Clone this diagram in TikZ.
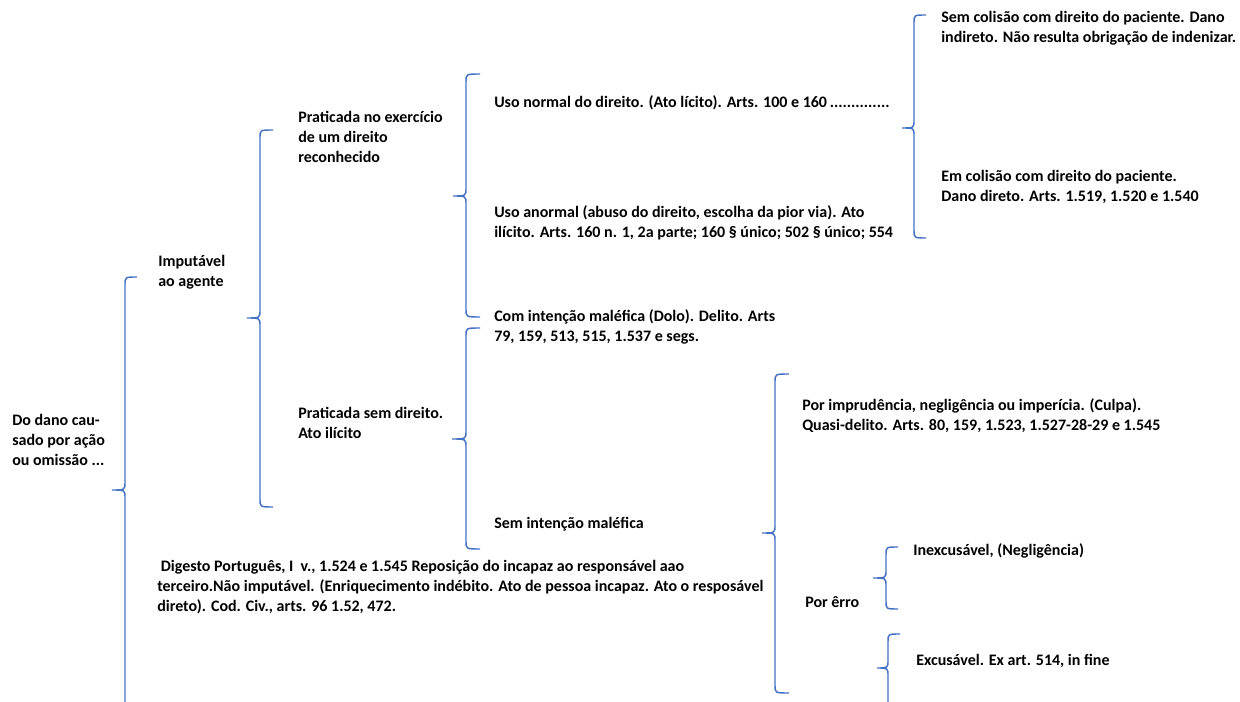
\documentclass[tikz,border=0pt]{standalone}
\usepackage{fontspec}
\setmainfont{Carlito}
\usepackage{tikz}
\usetikzlibrary{positioning}
\definecolor{brkblue}{HTML}{4472C4}

\begin{document}
\begin{tikzpicture}[
  x=0.75pt, y=-0.75pt,
  every node/.style={font=\fontsize{12}{15}\selectfont\bfseries},
  lbl/.style={inner sep=0pt, align=left, anchor=base west},
  brk/.style={draw=brkblue, line width=1.1pt},
]
\useasboundingbox (0,0) rectangle (1240,702);
% texts (placed at the baseline of their last line)
\node[lbl] (dano) at (12,465) {Do dano cau-\\sado por ação\\ou omissão ...};
\node[lbl] (imput) at (158,287) {Imputável\\ao agente};
\node[lbl] (exerc) at (298,163) {Praticada no exercício\\de um direito\\reconhecido};
\node[lbl] (semdir) at (298,439) {Praticada sem direito.\\Ato ilícito};
\node[lbl] (usonorm) at (494,108) {Uso normal do direito. (Ato lícito). Arts. 100 e 160\,..............};
\node[lbl] (usoanorm) at (494,238) {Uso anormal (abuso do direito, escolha da pior via). Ato\\ilícito. Arts. 160 n. 1, 2a parte; 160 § único; 502 § único; 554};
\node[lbl] (dolo) at (494,342) {Com intenção maléfica (Dolo). Delito. Arts\\79, 159, 513, 515, 1.537 e segs.};
\node[lbl] (semdolo) at (494,528) {Sem intenção maléfica};
\node[lbl] (semcol) at (941,43) {Sem colisão com direito do paciente. Dano\\indireto. Não resulta obrigação de indenizar.};
\node[lbl] (emcol) at (941,202) {Em colisão com direito do paciente.\\Dano direto. Arts. 1.519, 1.520 e 1.540};
\node[lbl] (culpa) at (802,431) {Por imprudência, negligência ou imperícia. (Culpa).\\Quasi-delito. Arts. 80, 159, 1.523, 1.527-28-29 e 1.545};
\node[lbl] (erro) at (805,607) {Por êrro};
\node[lbl] (inexc) at (913,556) {Inexcusável, (Negligência)};
\node[lbl] (excus) at (916,665) {Excusável. Ex art. 514, in fine};
\node[lbl] (digesto) at (157,611) {\ Digesto Português, I\ \ v., 1.524 e 1.545 Reposição do incapaz ao responsável aao\\terceiro.Não imputável. (Enriquecimento indébito. Ato de pessoa incapaz. Ato o resposável\\direto). Cod. Civ., arts. 96 1.52, 472.};
% braces
\draw[brk] (137,277) .. controls (125,277) .. (125,285) -- (125,482) .. controls (125,490) .. (112,490) .. controls (125,490) .. (125,498) -- (125,702);
\draw[brk] (273,130) .. controls (260,130) .. (260,138) -- (260,310) .. controls (260,318) .. (247,318) .. controls (260,318) .. (260,326) -- (260,499) .. controls (260,507) .. (273,507);
\draw[brk] (480,74) .. controls (466,74) .. (466,82) -- (466,188) .. controls (466,196) .. (453,196) .. controls (466,196) .. (466,204) -- (466,309) .. controls (466,317) .. (480,317);
\draw[brk] (480,328) .. controls (466,328) .. (466,336) -- (466,431) .. controls (466,439) .. (452,439) .. controls (466,439) .. (466,447) -- (466,541) .. controls (466,549) .. (480,549);
\draw[brk] (926,15) .. controls (914,15) .. (914,23) -- (914,120) .. controls (914,128) .. (902,128) .. controls (914,128) .. (914,136) -- (914,230) .. controls (914,238) .. (926,238);
\draw[brk] (789,374) .. controls (775,374) .. (775,382) -- (775,525) .. controls (775,533) .. (762,533) .. controls (775,533) .. (775,541) -- (775,685) .. controls (775,693) .. (789,693);
\draw[brk] (898,547) .. controls (886,547) .. (886,555) -- (886,570) .. controls (886,578) .. (873,578) .. controls (886,578) .. (886,586) -- (886,601) .. controls (886,609) .. (898,609);
\draw[brk] (900,634) .. controls (888,634) .. (888,642) -- (888,660) .. controls (888,668) .. (877,668) .. controls (888,668) .. (888,676) -- (888,702);
\end{tikzpicture}
\end{document}
